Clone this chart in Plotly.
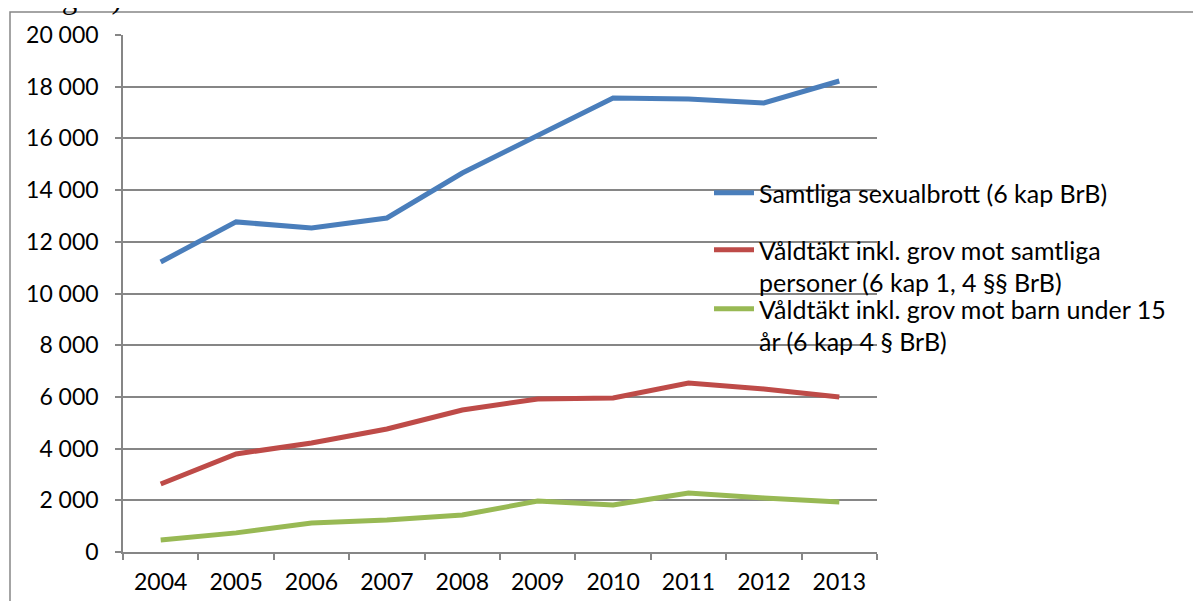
import plotly.graph_objects as go

years = ["2004", "2005", "2006", "2007", "2008", "2009", "2010", "2011", "2012", "2013"]
samtliga = [11220, 12770, 12530, 12920, 14660, 16130, 17560, 17520, 17370, 18220]
valdtakt_alla = [2630, 3790, 4220, 4760, 5490, 5920, 5960, 6540, 6310, 6000]
valdtakt_barn = [460, 740, 1120, 1240, 1430, 1970, 1820, 2280, 2090, 1930]

names = [
    "Samtliga sexualbrott (6 kap BrB)",
    "Våldtäkt inkl. grov mot samtliga<br>personer (6 kap 1, 4 §§ BrB)",
    "Våldtäkt inkl. grov mot barn under 15<br>år (6 kap 4 § BrB)",
]
colors = ["#4A7EBB", "#BE4B48", "#98B954"]
series = [samtliga, valdtakt_alla, valdtakt_barn]

y_tickvals = [0, 2000, 4000, 6000, 8000, 10000, 12000, 14000, 16000, 18000, 20000]
y_ticktext = ["0", "2 000", "4 000", "6 000", "8 000", "10 000", "12 000",
              "14 000", "16 000", "18 000", "20 000"]

W, H = 1201, 601
OFF = 8  # page body offset
L, R, T, B = 123 - OFF, 877 - OFF, 35 - OFF, 552 - OFF
pw, ph = R - L, B - T

def px_x(x):
    return (x - OFF - L) / pw

def px_y(y):
    return (B - (y - OFF)) / ph

fig = go.Figure()
legend_ids = ["legend", "legend2", "legend3"]
for i, (vals, nm, c) in enumerate(zip(series, names, colors)):
    fig.add_trace(go.Scatter(
        x=years, y=vals, mode="lines", name=nm,
        line=dict(color=c, width=5),
        legend=legend_ids[i],
    ))

FONT = "Lato"
grid = "#868686"

legend_common = dict(
    bgcolor="rgba(0,0,0,0)", xanchor="left", yanchor="top",
    font=dict(family=FONT, size=25, color="black"),
    valign="top", itemwidth=40,
)
leg_y = [170, 227, 286]
layout_leg = {}
for lid, yy in zip(legend_ids, leg_y):
    layout_leg[lid] = dict(legend_common, x=px_x(709), y=px_y(yy))

fig.update_layout(
    width=W, height=H,
    margin=dict(l=L, r=W - R, t=T, b=H - B),
    paper_bgcolor="white", plot_bgcolor="white",
    font=dict(family=FONT, size=23, color="black"),
    showlegend=True,
    xaxis=dict(
        type="category", tickson="boundaries", ticks="outside", ticklen=6,
        tickcolor=grid, tickwidth=1.5, showline=True, linecolor=grid, linewidth=1.5,
        showgrid=False, range=[-0.5, 9.5], ticklabelstandoff=9,
        tickfont=dict(family=FONT, size=23, color="black"),
    ),
    yaxis=dict(
        range=[0, 20000], tickvals=y_tickvals, ticktext=y_ticktext,
        ticks="outside", ticklen=6, tickcolor=grid, tickwidth=1.5,
        showline=True, linecolor=grid, linewidth=1.5,
        showgrid=True, gridcolor=grid, gridwidth=1.5, zeroline=False,
        ticklabelstandoff=12,
        tickfont=dict(family=FONT, size=23, color="black"),
    ),
    shapes=[dict(
        type="rect", xref="paper", yref="paper",
        x0=px_x(10), x1=px_x(1220), y0=px_y(620), y1=px_y(12),
        line=dict(color=grid, width=1.5), fillcolor="rgba(0,0,0,0)",
    )],
    annotations=[dict(
        text="kategori).", xref="paper", yref="paper",
        x=px_x(8), y=px_y(17), xanchor="left", yanchor="bottom",
        showarrow=False, font=dict(family="Liberation Serif", size=31, color="black"),
    )],
    **layout_leg,
)

fig.write_html("out.html")
